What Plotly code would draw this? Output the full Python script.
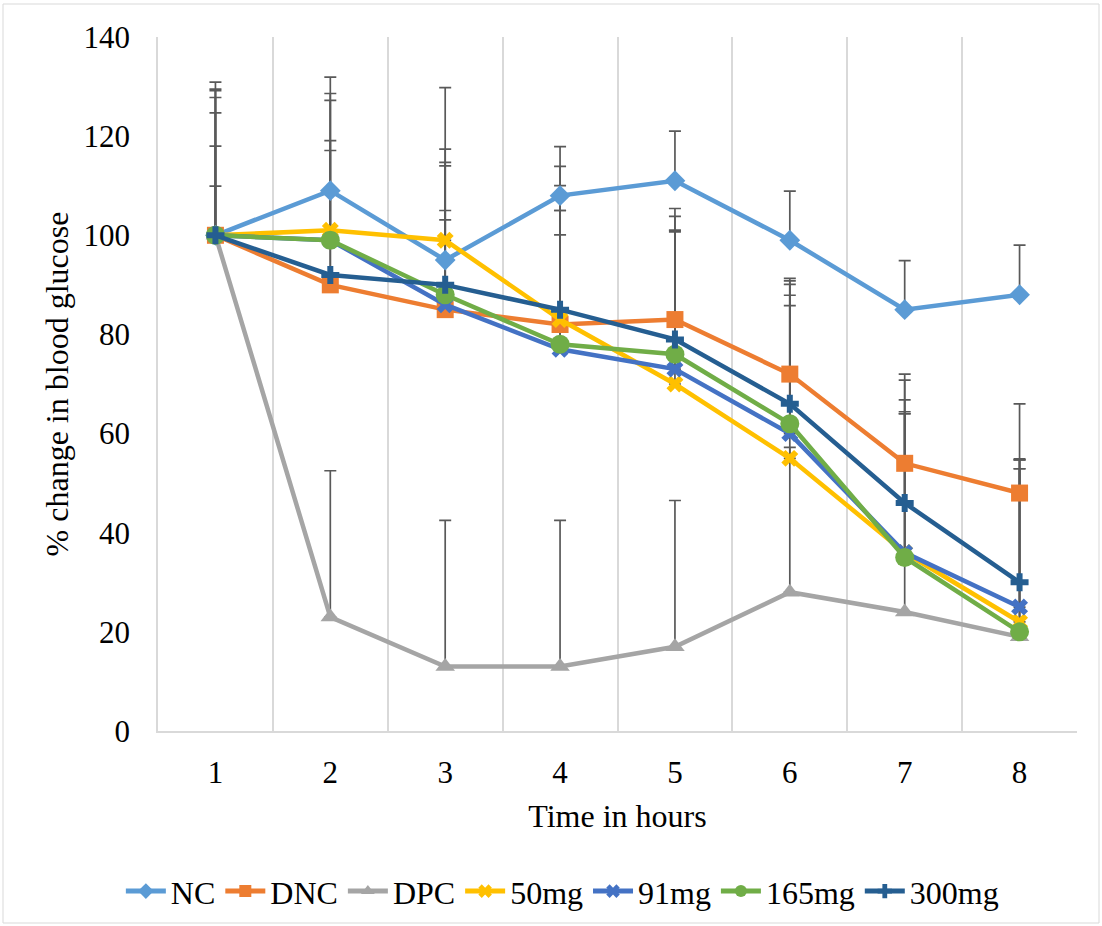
import plotly.graph_objects as go

hours = [1, 2, 3, 4, 5, 6, 7, 8]
tick_labels = ["1", "2", "3", "4", "5", "6", "7", "8"]

series_names = ["NC", "DNC", "DPC", "50mg", "91mg", "165mg", "300mg"]

nc = [100, 109, 95, 108, 111, 99, 85, 88]
dnc = [100, 90, 85, 82, 83, 72, 54, 48]
dpc = [100, 23, 13, 13, 17, 28, 24, 19]
mg50 = [100, 101, 99, 83, 70, 55, 36, 22]
mg91 = [100, 99, 86, 77, 73, 60, 36, 25]
mg165 = [100, 99, 88, 78, 76, 62, 35, 20]
mg300 = [100, 92, 90, 85, 79, 66, 46, 30]

# positive error bars (SD)
nc_err = [9.9, 10.1, 10.0, 9.9, 10.0, 9.9, 9.9, 10.0]
dnc_err = [18.0, 18.5, 18.1, 18.1, 18.0, 19.3, 18.0, 18.0]
dpc_err = [29.5, 29.5, 29.5, 29.5, 29.5, 29.2, 40.4, 33.9]
mg50_err = [30.9, 30.9, 30.8, 30.9, 30.7, 35.1, 34.8, 32.9]
mg91_err = [29.2, 29.6, 28.7, 28.0, 30.8, 30.8, 30.8, 29.7]
mg165_err = [27.8, 28.2, 26.0, 32.0, 29.4, 25.9, 29.0, 32.9]
mg300_err = [24.7, 25.1, 27.4, 20.0, 22.0, 19.8, 18.0, 24.7]

values = [nc, dnc, dpc, mg50, mg91, mg165, mg300]
errors = [nc_err, dnc_err, dpc_err, mg50_err, mg91_err, mg165_err, mg300_err]
colors = ["#5B9BD5", "#ED7D31", "#A5A5A5", "#FFC000", "#4472C4", "#70AD47", "#255E91"]
symbols = ["diamond", "square", "triangle-up", "x", "x", "circle", "cross"]
sizes = [16, 17, 17, 15, 15, 19, 15]

FONT = "Liberation Serif, Times New Roman, serif"

fig = go.Figure()

# error bars first (behind all lines)
for vals, err in zip(values, errors):
    fig.add_trace(go.Scatter(
        x=hours, y=vals, mode="markers",
        marker=dict(color="rgba(0,0,0,0)", size=1),
        error_y=dict(type="data", array=err, symmetric=False,
                     arrayminus=[0] * len(err),
                     color="#595959", thickness=1.7, width=6),
        showlegend=False, hoverinfo="skip"))

for name, vals, c, s, sz in zip(series_names, values, colors, symbols, sizes):
    fig.add_trace(go.Scatter(
        x=hours, y=vals, mode="lines+markers", name=name,
        line=dict(color=c, width=4.5),
        marker=dict(symbol=s, size=sz, color=c, line=dict(width=0))))

fig.update_layout(
    width=1102, height=926,
    paper_bgcolor="white", plot_bgcolor="white",
    margin=dict(l=158, r=25, t=37, b=195, autoexpand=False),
    font=dict(family=FONT, size=31, color="#000000"),
    showlegend=True,
    legend=dict(orientation="h", x=0.44, xanchor="center", y=-0.231, yanchor="middle",
                font=dict(family=FONT, size=32), itemsizing="constant",
                tracegroupgap=0, itemwidth=40),
    shapes=[dict(type="rect", xref="paper", yref="paper",
                 x0=(3 - 158) / 919, x1=(1099 - 158) / 919,
                 y0=(731 - 923) / 694, y1=(731 - 4) / 694,
                 line=dict(color="#D9D9D9", width=1), layer="below")],
)

fig.update_xaxes(
    range=[0.5, 8.5], tickvals=hours, ticktext=tick_labels,
    showgrid=False, zeroline=False, automargin=False,
    showline=True, linecolor="#D9D9D9", linewidth=1.5,
    ticks="", ticklabelstandoff=13,
    tickfont=dict(family=FONT, size=31),
    title=dict(text="Time in hours", font=dict(family=FONT, size=32), standoff=16),
    minor=dict(tickvals=[1.5, 2.5, 3.5, 4.5, 5.5, 6.5, 7.5, 8.5],
               showgrid=True, gridcolor="#D9D9D9", gridwidth=1.5, ticks=""),
)

fig.update_yaxes(
    range=[0, 140], tickvals=[0, 20, 40, 60, 80, 100, 120, 140],
    showgrid=False, zeroline=False, automargin=False,
    showline=True, linecolor="#D9D9D9", linewidth=1.5,
    ticks="", ticklabelstandoff=20,
    tickfont=dict(family=FONT, size=31),
    title=dict(text="% change in blood glucose", font=dict(family=FONT, size=32), standoff=5),
)

fig.write_html("out.html", config={"displayModeBar": False},
               post_script="document.body.style.margin='0px';")
